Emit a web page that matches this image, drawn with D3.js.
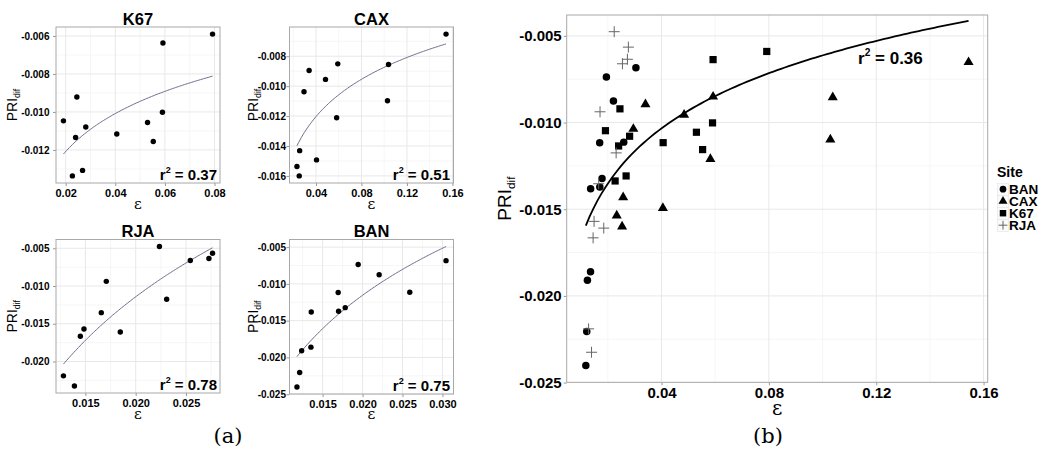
<!DOCTYPE html>
<html>
<head>
<meta charset="utf-8">
<script src="https://cdn.jsdelivr.net/npm/d3@7"></script>
<style>
  body { margin: 0; background: #fff; }
  svg { display: block; }
</style>
</head>
<body>
<script>
// site data (epsilon vs PRI_dif)
var sites = ["BAN", "CAX", "K67", "RJA"];

var k67Eps = [0.0191, 0.0245, 0.0240, 0.0281, 0.0227, 0.0268, 0.0406, 0.0530, 0.0553, 0.0590, 0.0592, 0.0792];
var k67Pri = [-0.01047, -0.00921, -0.01135, -0.01079, -0.01337, -0.01308, -0.01116, -0.01056, -0.01156, -0.01002, -0.00637, -0.00590];

var caxEps = [0.1544, 0.0592, 0.1038, 0.0340, 0.0484, 0.0295, 0.1029, 0.0582, 0.0257, 0.0405, 0.0233, 0.0253];
var caxPri = [-0.00652, -0.00851, -0.00855, -0.00895, -0.00955, -0.01037, -0.01098, -0.01211, -0.01431, -0.01493, -0.01537, -0.01600];

var rjaEps = [0.01282, 0.01391, 0.01450, 0.01486, 0.01658, 0.01708, 0.01847, 0.02236, 0.02308, 0.02543, 0.02728, 0.02764];
var rjaPri = [-0.02190, -0.02325, -0.01665, -0.01570, -0.01353, -0.00938, -0.01609, -0.00476, -0.01175, -0.00661, -0.00635, -0.00565];

var banEps = [0.01179, 0.01213, 0.01238, 0.01354, 0.01358, 0.01695, 0.01700, 0.01783, 0.01945, 0.02208, 0.02591, 0.03045];
var banPri = [-0.02402, -0.02205, -0.01909, -0.01860, -0.01382, -0.01117, -0.01372, -0.01323, -0.00737, -0.00876, -0.01113, -0.00684];

var r2Labels = {K67: "0.37", CAX: "0.51", RJA: "0.78", BAN: "0.75", all: "0.36"};
// pooled curve in (b): PRI = a + b*ln(eps), coefficients
var pooledFit = {a: 0.00444, b: 0.00459};

var k67XTicks = [0.02, 0.04, 0.06, 0.08];
var k67YTicks = [-0.012, -0.010, -0.008, -0.006];
var caxXTicks = [0.04, 0.08, 0.12, 0.16];
var caxYTicks = [-0.016, -0.014, -0.012, -0.010, -0.008];
var rjaXTicks = [0.015, 0.020, 0.025];
var rjaYTicks = [-0.020, -0.015, -0.010, -0.005];
var banXTicks = [0.015, 0.020, 0.025, 0.030];
var banYTicks = [-0.025, -0.020, -0.015, -0.010, -0.005];
var allXTicks = [0.04, 0.08, 0.12, 0.16];
var allYTicks = [-0.025, -0.020, -0.015, -0.010, -0.005];

function zip(eps, pri, site) {
  return eps.map(function(e, i){ return {eps: e, pri: pri[i], site: site}; });
}
var dataBySite = {
  BAN: zip(banEps, banPri, "BAN"),
  CAX: zip(caxEps, caxPri, "CAX"),
  K67: zip(k67Eps, k67Pri, "K67"),
  RJA: zip(rjaEps, rjaPri, "RJA")
};

var SANS = "'Liberation Sans', Arial, sans-serif";
var SERIF = "'DejaVu Serif', 'Liberation Serif', serif";

var svg = d3.select("body").append("svg").attr("width", 1045).attr("height", 454);

// least squares fit of pri = a + b*ln(eps)
function logFit(data) {
  var mx = d3.mean(data, function(d){ return Math.log(d.eps); });
  var my = d3.mean(data, function(d){ return d.pri; });
  var sxy = d3.sum(data, function(d){ return (Math.log(d.eps) - mx) * (d.pri - my); });
  var sxx = d3.sum(data, function(d){ return Math.pow(Math.log(d.eps) - mx, 2); });
  var b = sxy / sxx;
  return {a: my - b * mx, b: b};
}

function expand(ext) {
  var pad = (ext[1] - ext[0]) * 0.05;
  return [ext[0] - pad, ext[1] + pad];
}

function minors(ticks, dom) {
  var step = ticks[1] - ticks[0], out = [];
  for (var i = -1; i < ticks.length; i++) {
    var v = ticks[0] + step * (i + 0.5);
    if (v > dom[0] && v < dom[1]) out.push(v);
  }
  return out;
}

function symbolPath(site, big) {
  var k = big ? 1 : 0.8;
  if (site == "BAN") return d3.symbol(d3.symbolCircle, 44 * k)();
  if (site == "CAX") return d3.symbol(d3.symbolTriangle, 44 * k)();
  if (site == "K67") return d3.symbol(d3.symbolSquare, 52 * k)();
  var h = 5.5 * k;
  return "M" + (-h) + ",0H" + h + "M0," + (-h) + "V" + h;
}

function drawPanel(o) {
  var data = [];
  o.sites.forEach(function(s){ data = data.concat(dataBySite[s]); });
  var fit = o.fit || logFit(data);
  var epsExt = d3.extent(data, function(d){ return d.eps; });
  var curve = d3.range(0, 101).map(function(i){
    var e = epsExt[0] + (epsExt[1] - epsExt[0]) * i / 100;
    return {eps: e, pri: fit.a + fit.b * Math.log(e)};
  });
  var yExt = d3.extent(o.fit ? data : data.concat(curve), function(d){ return d.pri; });

  var x = d3.scaleLinear().domain(expand(epsExt)).range([o.x0, o.x1]);
  var y = d3.scaleLinear().domain(expand(yExt)).range([o.y1, o.y0]);
  var g = svg.append("g");

  // grid
  g.selectAll(".mx").data(minors(o.xTicks, x.domain())).enter().append("line")
    .attr("x1", x).attr("x2", x).attr("y1", o.y0).attr("y2", o.y1)
    .attr("stroke", "#f4f4f4").attr("stroke-width", 0.8);
  g.selectAll(".my").data(minors(o.yTicks, y.domain())).enter().append("line")
    .attr("y1", y).attr("y2", y).attr("x1", o.x0).attr("x2", o.x1)
    .attr("stroke", "#f4f4f4").attr("stroke-width", 0.8);
  g.selectAll(".gx").data(o.xTicks).enter().append("line")
    .attr("x1", x).attr("x2", x).attr("y1", o.y0).attr("y2", o.y1)
    .attr("stroke", "#e8e8e8").attr("stroke-width", 1);
  g.selectAll(".gy").data(o.yTicks).enter().append("line")
    .attr("y1", y).attr("y2", y).attr("x1", o.x0).attr("x2", o.x1)
    .attr("stroke", "#e8e8e8").attr("stroke-width", 1);

  // axes
  var xAxis = d3.axisBottom(x).tickValues(o.xTicks).tickSize(3).tickPadding(o.xPad)
    .tickFormat(function(d){ return d.toFixed(o.xDec); });
  var yAxis = d3.axisLeft(y).tickValues(o.yTicks).tickSize(3).tickPadding(o.yPad)
    .tickFormat(function(d){ return d.toFixed(3); });
  var gx = g.append("g").attr("transform", "translate(0," + o.y1 + ")").call(xAxis);
  var gy = g.append("g").attr("transform", "translate(" + o.x0 + ",0)").call(yAxis);
  [gx, gy].forEach(function(a){
    a.select(".domain").remove();
    a.selectAll("line").attr("stroke", "#999");
    a.attr("font-family", SANS).attr("font-weight", "bold");
    a.selectAll("text").attr("fill", "#000");
  });
  gx.attr("font-size", o.xFont);
  gy.attr("font-size", o.yFont);

  g.append("rect").attr("x", o.x0).attr("y", o.y0)
    .attr("width", o.x1 - o.x0).attr("height", o.y1 - o.y0)
    .attr("fill", "none").attr("stroke", "#a8a8a8").attr("stroke-width", 1);

  // fit line
  var line = d3.line().x(function(d){ return x(d.eps); }).y(function(d){ return y(d.pri); });
  g.append("path").attr("d", line(curve)).attr("fill", "none")
    .attr("stroke", o.lineColor).attr("stroke-width", o.lineWidth);

  // points
  g.selectAll(".pt").data(data).enter().append("path")
    .attr("transform", function(d){ return "translate(" + x(d.eps) + "," + y(d.pri) + ")"; })
    .attr("d", function(d){ return o.single ? d3.symbol(d3.symbolCircle, 23)() : symbolPath(d.site, true); })
    .attr("fill", function(d){ return d.site == "RJA" && !o.single ? "none" : "#000"; })
    .attr("stroke", function(d){ return d.site == "RJA" && !o.single ? "#666" : "none"; })
    .attr("stroke-width", 1);

  // title
  if (o.title) {
    g.append("text").attr("x", (o.x0 + o.x1) / 2).attr("y", o.y0 - 2.5)
      .attr("text-anchor", "middle").attr("font-family", SANS).attr("font-weight", "bold")
      .attr("font-size", 16.5).text(o.title);
  }

  // r^2 label
  var r2 = g.append("text").attr("x", o.r2x).attr("y", o.r2y)
    .attr("text-anchor", o.r2anchor).attr("font-family", SANS).attr("font-weight", "bold")
    .attr("font-size", o.r2Font);
  r2.append("tspan").text("r");
  r2.append("tspan").attr("font-size", "0.6em").attr("dy", "-0.75em").text("2");
  r2.append("tspan").attr("dy", "0.45em").text(" = " + o.r2);

  // axis titles
  g.append("text").attr("x", (o.x0 + o.x1) / 2).attr("y", o.epsY)
    .attr("text-anchor", "middle").attr("font-family", SERIF).attr("font-size", o.epsFont).text("ε");
  var pt = g.append("text").attr("transform", "translate(" + o.priX + "," + ((o.y0 + o.y1) / 2) + ") rotate(-90)")
    .attr("text-anchor", "middle").attr("font-family", SANS).attr("font-size", o.priFont);
  pt.append("tspan").text("PRI");
  pt.append("tspan").attr("font-size", "0.62em").attr("dy", "0.3em").text("dif");
}

var small = {xFont: 11, yFont: 10, xPad: 2.7, xDec: 2, lineColor: "#6e6e8c", lineWidth: 1,
  single: true, r2Font: 15, r2anchor: "end", epsFont: 15, priFont: 14};

drawPanel(Object.assign({}, small, {sites: ["K67"], title: "K67", x0: 56, x1: 220, y0: 27, y1: 183,
  xTicks: k67XTicks, yTicks: k67YTicks, yPad: 3.5, r2: r2Labels.K67, r2x: 217, r2y: 179.5,
  epsY: 209, priX: 17}));
drawPanel(Object.assign({}, small, {sites: ["CAX"], title: "CAX", x0: 289.5, x1: 453.5, y0: 27, y1: 183,
  xTicks: caxXTicks, yTicks: caxYTicks, yPad: 0.5, r2: r2Labels.CAX, r2x: 450, r2y: 179.5,
  epsY: 209, priX: 258}));
drawPanel(Object.assign({}, small, {sites: ["RJA"], title: "RJA", x0: 56, x1: 220, y0: 239.5, y1: 393,
  xTicks: rjaXTicks, yTicks: rjaYTicks, xDec: 3, yPad: 3.5, r2: r2Labels.RJA, r2x: 217, r2y: 390,
  epsY: 419, priX: 17}));
drawPanel(Object.assign({}, small, {sites: ["BAN"], title: "BAN", x0: 289.5, x1: 453.5, y0: 239.5, y1: 394,
  xTicks: banXTicks, yTicks: banYTicks, xDec: 3, yPad: 0.5, r2: r2Labels.BAN, r2x: 450, r2y: 390.5,
  epsY: 419, priX: 258}));

drawPanel({sites: sites, fit: pooledFit, x0: 566.7, x1: 987.7, y0: 15, y1: 382.3,
  xTicks: allXTicks, yTicks: allYTicks, xDec: 2, xFont: 15, yFont: 15, xPad: 2, yPad: 2,
  lineColor: "#000", lineWidth: 1.8, single: false, r2: r2Labels.all, r2Font: 17, r2anchor: "start",
  r2x: 858, r2y: 64, epsY: 415, epsFont: 20, priX: 511, priFont: 19});

// legend
var leg = svg.append("g").attr("font-family", SANS).attr("font-weight", "bold");
leg.append("text").attr("x", 997).attr("y", 177).attr("font-size", 14).text("Site");
sites.forEach(function(s, i){
  var by = 194 + i * 12;
  leg.append("rect").attr("x", 997.5).attr("y", by - 10.5).attr("width", 11).attr("height", 12)
    .attr("fill", "#fafafa").attr("stroke", "#e4e4e4").attr("stroke-width", 0.6);
  leg.append("path").attr("transform", "translate(1003," + (by - 4.8) + ")")
    .attr("d", symbolPath(s, false))
    .attr("fill", s == "RJA" ? "none" : "#000")
    .attr("stroke", s == "RJA" ? "#666" : "none").attr("stroke-width", 1);
  leg.append("text").attr("x", 1009).attr("y", by).attr("font-size", 13.5).text(s);
});

// sub-figure labels
svg.append("text").attr("x", 228).attr("y", 443).attr("text-anchor", "middle")
  .attr("font-family", SERIF).attr("font-size", 21).text("(a)");
svg.append("text").attr("x", 768).attr("y", 443).attr("text-anchor", "middle")
  .attr("font-family", SERIF).attr("font-size", 21).text("(b)");
</script>
</body>
</html>
